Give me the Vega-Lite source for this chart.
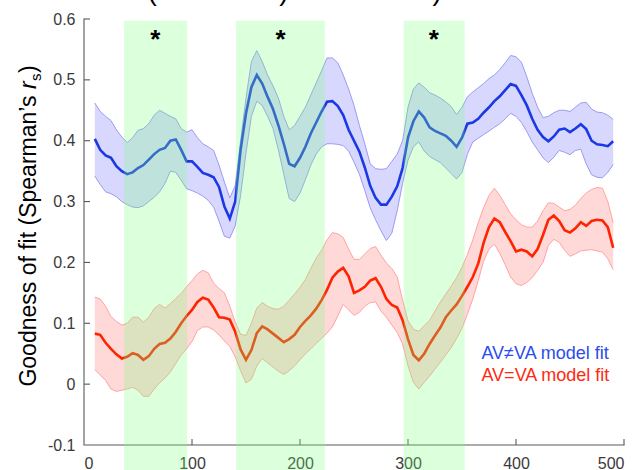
{
  "$schema": "https://vega.github.io/schema/vega-lite/v6.json",
  "width": 540,
  "height": 426,
  "autosize": "none",
  "padding": {"left": 84, "top": 19, "right": 19, "bottom": 25},
  "config": {
    "view": {"stroke": null},
    "font": "Liberation Sans",
    "axis": {
      "grid": false,
      "domain": false,
      "ticks": false,
      "labelFontSize": 16,
      "labelColor": "#3a3a3a"
    }
  },
  "datasets": {
    "fit": [
      {"model":"AV≠VA","x":10,"mean":0.403,"lo":0.342,"hi":0.462},
      {"model":"AV≠VA","x":15,"mean":0.385,"lo":0.328,"hi":0.448},
      {"model":"AV≠VA","x":20,"mean":0.376,"lo":0.316,"hi":0.440},
      {"model":"AV≠VA","x":25,"mean":0.372,"lo":0.313,"hi":0.433},
      {"model":"AV≠VA","x":30,"mean":0.358,"lo":0.308,"hi":0.418},
      {"model":"AV≠VA","x":35,"mean":0.350,"lo":0.300,"hi":0.406},
      {"model":"AV≠VA","x":40,"mean":0.345,"lo":0.295,"hi":0.397},
      {"model":"AV≠VA","x":45,"mean":0.348,"lo":0.291,"hi":0.405},
      {"model":"AV≠VA","x":50,"mean":0.355,"lo":0.290,"hi":0.417},
      {"model":"AV≠VA","x":55,"mean":0.360,"lo":0.293,"hi":0.420},
      {"model":"AV≠VA","x":60,"mean":0.369,"lo":0.300,"hi":0.428},
      {"model":"AV≠VA","x":65,"mean":0.378,"lo":0.307,"hi":0.442},
      {"model":"AV≠VA","x":70,"mean":0.385,"lo":0.316,"hi":0.450},
      {"model":"AV≠VA","x":75,"mean":0.388,"lo":0.330,"hi":0.445},
      {"model":"AV≠VA","x":80,"mean":0.400,"lo":0.350,"hi":0.440},
      {"model":"AV≠VA","x":85,"mean":0.402,"lo":0.348,"hi":0.436},
      {"model":"AV≠VA","x":90,"mean":0.385,"lo":0.335,"hi":0.420},
      {"model":"AV≠VA","x":95,"mean":0.366,"lo":0.321,"hi":0.414},
      {"model":"AV≠VA","x":100,"mean":0.366,"lo":0.318,"hi":0.418},
      {"model":"AV≠VA","x":105,"mean":0.357,"lo":0.314,"hi":0.405},
      {"model":"AV≠VA","x":110,"mean":0.347,"lo":0.309,"hi":0.395},
      {"model":"AV≠VA","x":115,"mean":0.344,"lo":0.302,"hi":0.390},
      {"model":"AV≠VA","x":120,"mean":0.340,"lo":0.291,"hi":0.384},
      {"model":"AV≠VA","x":125,"mean":0.324,"lo":0.268,"hi":0.360},
      {"model":"AV≠VA","x":130,"mean":0.292,"lo":0.243,"hi":0.332},
      {"model":"AV≠VA","x":135,"mean":0.272,"lo":0.240,"hi":0.306},
      {"model":"AV≠VA","x":140,"mean":0.300,"lo":0.260,"hi":0.326},
      {"model":"AV≠VA","x":145,"mean":0.385,"lo":0.310,"hi":0.400},
      {"model":"AV≠VA","x":150,"mean":0.445,"lo":0.380,"hi":0.470},
      {"model":"AV≠VA","x":155,"mean":0.488,"lo":0.440,"hi":0.530},
      {"model":"AV≠VA","x":160,"mean":0.508,"lo":0.465,"hi":0.548},
      {"model":"AV≠VA","x":165,"mean":0.494,"lo":0.458,"hi":0.530},
      {"model":"AV≠VA","x":170,"mean":0.472,"lo":0.440,"hi":0.508},
      {"model":"AV≠VA","x":175,"mean":0.452,"lo":0.420,"hi":0.490},
      {"model":"AV≠VA","x":180,"mean":0.425,"lo":0.385,"hi":0.470},
      {"model":"AV≠VA","x":185,"mean":0.395,"lo":0.345,"hi":0.440},
      {"model":"AV≠VA","x":190,"mean":0.362,"lo":0.305,"hi":0.418},
      {"model":"AV≠VA","x":195,"mean":0.358,"lo":0.300,"hi":0.425},
      {"model":"AV≠VA","x":200,"mean":0.372,"lo":0.314,"hi":0.440},
      {"model":"AV≠VA","x":205,"mean":0.390,"lo":0.336,"hi":0.455},
      {"model":"AV≠VA","x":210,"mean":0.412,"lo":0.360,"hi":0.475},
      {"model":"AV≠VA","x":215,"mean":0.430,"lo":0.378,"hi":0.495},
      {"model":"AV≠VA","x":220,"mean":0.448,"lo":0.390,"hi":0.515},
      {"model":"AV≠VA","x":225,"mean":0.464,"lo":0.395,"hi":0.536},
      {"model":"AV≠VA","x":230,"mean":0.465,"lo":0.395,"hi":0.536},
      {"model":"AV≠VA","x":235,"mean":0.457,"lo":0.394,"hi":0.528},
      {"model":"AV≠VA","x":240,"mean":0.442,"lo":0.392,"hi":0.508},
      {"model":"AV≠VA","x":245,"mean":0.418,"lo":0.383,"hi":0.485},
      {"model":"AV≠VA","x":250,"mean":0.400,"lo":0.365,"hi":0.458},
      {"model":"AV≠VA","x":255,"mean":0.382,"lo":0.345,"hi":0.425},
      {"model":"AV≠VA","x":260,"mean":0.356,"lo":0.318,"hi":0.395},
      {"model":"AV≠VA","x":265,"mean":0.326,"lo":0.290,"hi":0.362},
      {"model":"AV≠VA","x":270,"mean":0.306,"lo":0.270,"hi":0.354},
      {"model":"AV≠VA","x":275,"mean":0.295,"lo":0.252,"hi":0.353},
      {"model":"AV≠VA","x":280,"mean":0.295,"lo":0.236,"hi":0.354},
      {"model":"AV≠VA","x":285,"mean":0.308,"lo":0.248,"hi":0.366},
      {"model":"AV≠VA","x":290,"mean":0.325,"lo":0.285,"hi":0.378},
      {"model":"AV≠VA","x":295,"mean":0.355,"lo":0.330,"hi":0.400},
      {"model":"AV≠VA","x":300,"mean":0.405,"lo":0.368,"hi":0.455},
      {"model":"AV≠VA","x":305,"mean":0.432,"lo":0.390,"hi":0.485},
      {"model":"AV≠VA","x":310,"mean":0.448,"lo":0.398,"hi":0.495},
      {"model":"AV≠VA","x":315,"mean":0.438,"lo":0.383,"hi":0.488},
      {"model":"AV≠VA","x":320,"mean":0.422,"lo":0.374,"hi":0.479},
      {"model":"AV≠VA","x":325,"mean":0.416,"lo":0.369,"hi":0.475},
      {"model":"AV≠VA","x":330,"mean":0.412,"lo":0.364,"hi":0.470},
      {"model":"AV≠VA","x":335,"mean":0.408,"lo":0.355,"hi":0.464},
      {"model":"AV≠VA","x":340,"mean":0.400,"lo":0.346,"hi":0.456},
      {"model":"AV≠VA","x":345,"mean":0.390,"lo":0.337,"hi":0.443},
      {"model":"AV≠VA","x":350,"mean":0.405,"lo":0.348,"hi":0.455},
      {"model":"AV≠VA","x":355,"mean":0.428,"lo":0.378,"hi":0.472},
      {"model":"AV≠VA","x":360,"mean":0.430,"lo":0.398,"hi":0.480},
      {"model":"AV≠VA","x":365,"mean":0.436,"lo":0.404,"hi":0.487},
      {"model":"AV≠VA","x":370,"mean":0.446,"lo":0.410,"hi":0.494},
      {"model":"AV≠VA","x":375,"mean":0.455,"lo":0.416,"hi":0.502},
      {"model":"AV≠VA","x":380,"mean":0.465,"lo":0.422,"hi":0.508},
      {"model":"AV≠VA","x":385,"mean":0.473,"lo":0.428,"hi":0.517},
      {"model":"AV≠VA","x":390,"mean":0.483,"lo":0.436,"hi":0.528},
      {"model":"AV≠VA","x":395,"mean":0.493,"lo":0.445,"hi":0.540},
      {"model":"AV≠VA","x":400,"mean":0.490,"lo":0.440,"hi":0.538},
      {"model":"AV≠VA","x":405,"mean":0.475,"lo":0.430,"hi":0.529},
      {"model":"AV≠VA","x":410,"mean":0.458,"lo":0.415,"hi":0.505},
      {"model":"AV≠VA","x":415,"mean":0.436,"lo":0.398,"hi":0.478},
      {"model":"AV≠VA","x":420,"mean":0.418,"lo":0.385,"hi":0.455},
      {"model":"AV≠VA","x":425,"mean":0.406,"lo":0.372,"hi":0.438},
      {"model":"AV≠VA","x":430,"mean":0.399,"lo":0.364,"hi":0.440},
      {"model":"AV≠VA","x":435,"mean":0.407,"lo":0.373,"hi":0.446},
      {"model":"AV≠VA","x":440,"mean":0.418,"lo":0.384,"hi":0.450},
      {"model":"AV≠VA","x":445,"mean":0.420,"lo":0.381,"hi":0.450},
      {"model":"AV≠VA","x":450,"mean":0.414,"lo":0.377,"hi":0.448},
      {"model":"AV≠VA","x":455,"mean":0.420,"lo":0.384,"hi":0.455},
      {"model":"AV≠VA","x":460,"mean":0.427,"lo":0.386,"hi":0.462},
      {"model":"AV≠VA","x":465,"mean":0.419,"lo":0.362,"hi":0.463},
      {"model":"AV≠VA","x":470,"mean":0.400,"lo":0.344,"hi":0.452},
      {"model":"AV≠VA","x":475,"mean":0.394,"lo":0.340,"hi":0.447},
      {"model":"AV≠VA","x":480,"mean":0.393,"lo":0.339,"hi":0.446},
      {"model":"AV≠VA","x":485,"mean":0.391,"lo":0.348,"hi":0.442},
      {"model":"AV≠VA","x":490,"mean":0.399,"lo":0.361,"hi":0.435},
      {"model":"AV=VA","x":10,"mean":0.083,"lo":0.024,"hi":0.143},
      {"model":"AV=VA","x":15,"mean":0.081,"lo":0.015,"hi":0.140},
      {"model":"AV=VA","x":20,"mean":0.068,"lo":0.006,"hi":0.128},
      {"model":"AV=VA","x":25,"mean":0.058,"lo":-0.008,"hi":0.111},
      {"model":"AV=VA","x":30,"mean":0.049,"lo":-0.012,"hi":0.103},
      {"model":"AV=VA","x":35,"mean":0.042,"lo":-0.010,"hi":0.097},
      {"model":"AV=VA","x":40,"mean":0.045,"lo":-0.008,"hi":0.100},
      {"model":"AV=VA","x":45,"mean":0.051,"lo":-0.005,"hi":0.110},
      {"model":"AV=VA","x":50,"mean":0.048,"lo":-0.010,"hi":0.110},
      {"model":"AV=VA","x":55,"mean":0.040,"lo":-0.020,"hi":0.102},
      {"model":"AV=VA","x":60,"mean":0.046,"lo":-0.020,"hi":0.110},
      {"model":"AV=VA","x":65,"mean":0.058,"lo":-0.008,"hi":0.124},
      {"model":"AV=VA","x":70,"mean":0.066,"lo":0.002,"hi":0.131},
      {"model":"AV=VA","x":75,"mean":0.068,"lo":0.010,"hi":0.125},
      {"model":"AV=VA","x":80,"mean":0.075,"lo":0.020,"hi":0.132},
      {"model":"AV=VA","x":85,"mean":0.086,"lo":0.034,"hi":0.141},
      {"model":"AV=VA","x":90,"mean":0.100,"lo":0.048,"hi":0.149},
      {"model":"AV=VA","x":95,"mean":0.112,"lo":0.058,"hi":0.160},
      {"model":"AV=VA","x":100,"mean":0.122,"lo":0.070,"hi":0.170},
      {"model":"AV=VA","x":105,"mean":0.135,"lo":0.088,"hi":0.181},
      {"model":"AV=VA","x":110,"mean":0.142,"lo":0.094,"hi":0.187},
      {"model":"AV=VA","x":115,"mean":0.139,"lo":0.094,"hi":0.183},
      {"model":"AV=VA","x":120,"mean":0.126,"lo":0.089,"hi":0.166},
      {"model":"AV=VA","x":125,"mean":0.110,"lo":0.081,"hi":0.157},
      {"model":"AV=VA","x":130,"mean":0.109,"lo":0.071,"hi":0.150},
      {"model":"AV=VA","x":135,"mean":0.106,"lo":0.062,"hi":0.128},
      {"model":"AV=VA","x":140,"mean":0.086,"lo":0.045,"hi":0.102},
      {"model":"AV=VA","x":145,"mean":0.057,"lo":0.022,"hi":0.082},
      {"model":"AV=VA","x":150,"mean":0.040,"lo":0.002,"hi":0.080},
      {"model":"AV=VA","x":155,"mean":0.056,"lo":0.008,"hi":0.100},
      {"model":"AV=VA","x":160,"mean":0.084,"lo":0.030,"hi":0.125},
      {"model":"AV=VA","x":165,"mean":0.095,"lo":0.042,"hi":0.134},
      {"model":"AV=VA","x":170,"mean":0.090,"lo":0.035,"hi":0.128},
      {"model":"AV=VA","x":175,"mean":0.083,"lo":0.028,"hi":0.124},
      {"model":"AV=VA","x":180,"mean":0.076,"lo":0.021,"hi":0.123},
      {"model":"AV=VA","x":185,"mean":0.069,"lo":0.016,"hi":0.128},
      {"model":"AV=VA","x":190,"mean":0.074,"lo":0.022,"hi":0.138},
      {"model":"AV=VA","x":195,"mean":0.081,"lo":0.030,"hi":0.148},
      {"model":"AV=VA","x":200,"mean":0.094,"lo":0.040,"hi":0.159},
      {"model":"AV=VA","x":205,"mean":0.104,"lo":0.050,"hi":0.172},
      {"model":"AV=VA","x":210,"mean":0.113,"lo":0.058,"hi":0.190},
      {"model":"AV=VA","x":215,"mean":0.124,"lo":0.067,"hi":0.207},
      {"model":"AV=VA","x":220,"mean":0.138,"lo":0.075,"hi":0.220},
      {"model":"AV=VA","x":225,"mean":0.155,"lo":0.084,"hi":0.237},
      {"model":"AV=VA","x":230,"mean":0.175,"lo":0.094,"hi":0.249},
      {"model":"AV=VA","x":235,"mean":0.185,"lo":0.112,"hi":0.247},
      {"model":"AV=VA","x":240,"mean":0.191,"lo":0.131,"hi":0.241},
      {"model":"AV=VA","x":245,"mean":0.177,"lo":0.122,"hi":0.222},
      {"model":"AV=VA","x":250,"mean":0.150,"lo":0.113,"hi":0.205},
      {"model":"AV=VA","x":255,"mean":0.154,"lo":0.118,"hi":0.205},
      {"model":"AV=VA","x":260,"mean":0.160,"lo":0.128,"hi":0.214},
      {"model":"AV=VA","x":265,"mean":0.170,"lo":0.134,"hi":0.223},
      {"model":"AV=VA","x":270,"mean":0.174,"lo":0.135,"hi":0.226},
      {"model":"AV=VA","x":275,"mean":0.160,"lo":0.120,"hi":0.212},
      {"model":"AV=VA","x":280,"mean":0.140,"lo":0.110,"hi":0.199},
      {"model":"AV=VA","x":285,"mean":0.130,"lo":0.097,"hi":0.190},
      {"model":"AV=VA","x":290,"mean":0.126,"lo":0.085,"hi":0.176},
      {"model":"AV=VA","x":295,"mean":0.105,"lo":0.066,"hi":0.138},
      {"model":"AV=VA","x":300,"mean":0.074,"lo":0.030,"hi":0.104},
      {"model":"AV=VA","x":305,"mean":0.048,"lo":0.003,"hi":0.090},
      {"model":"AV=VA","x":310,"mean":0.039,"lo":-0.008,"hi":0.087},
      {"model":"AV=VA","x":315,"mean":0.050,"lo":0.003,"hi":0.096},
      {"model":"AV=VA","x":320,"mean":0.066,"lo":0.013,"hi":0.105},
      {"model":"AV=VA","x":325,"mean":0.080,"lo":0.025,"hi":0.120},
      {"model":"AV=VA","x":330,"mean":0.093,"lo":0.036,"hi":0.135},
      {"model":"AV=VA","x":335,"mean":0.110,"lo":0.048,"hi":0.148},
      {"model":"AV=VA","x":340,"mean":0.121,"lo":0.060,"hi":0.161},
      {"model":"AV=VA","x":345,"mean":0.131,"lo":0.075,"hi":0.175},
      {"model":"AV=VA","x":350,"mean":0.145,"lo":0.092,"hi":0.192},
      {"model":"AV=VA","x":355,"mean":0.160,"lo":0.115,"hi":0.213},
      {"model":"AV=VA","x":360,"mean":0.176,"lo":0.140,"hi":0.237},
      {"model":"AV=VA","x":365,"mean":0.198,"lo":0.170,"hi":0.265},
      {"model":"AV=VA","x":370,"mean":0.232,"lo":0.202,"hi":0.290},
      {"model":"AV=VA","x":375,"mean":0.258,"lo":0.222,"hi":0.310},
      {"model":"AV=VA","x":380,"mean":0.272,"lo":0.230,"hi":0.322},
      {"model":"AV=VA","x":385,"mean":0.266,"lo":0.215,"hi":0.310},
      {"model":"AV=VA","x":390,"mean":0.250,"lo":0.196,"hi":0.295},
      {"model":"AV=VA","x":395,"mean":0.235,"lo":0.176,"hi":0.280},
      {"model":"AV=VA","x":400,"mean":0.218,"lo":0.165,"hi":0.270},
      {"model":"AV=VA","x":405,"mean":0.221,"lo":0.162,"hi":0.262},
      {"model":"AV=VA","x":410,"mean":0.218,"lo":0.167,"hi":0.258},
      {"model":"AV=VA","x":415,"mean":0.210,"lo":0.175,"hi":0.258},
      {"model":"AV=VA","x":420,"mean":0.222,"lo":0.187,"hi":0.268},
      {"model":"AV=VA","x":425,"mean":0.245,"lo":0.200,"hi":0.285},
      {"model":"AV=VA","x":430,"mean":0.270,"lo":0.228,"hi":0.298},
      {"model":"AV=VA","x":435,"mean":0.277,"lo":0.238,"hi":0.297},
      {"model":"AV=VA","x":440,"mean":0.268,"lo":0.233,"hi":0.291},
      {"model":"AV=VA","x":445,"mean":0.253,"lo":0.220,"hi":0.285},
      {"model":"AV=VA","x":450,"mean":0.249,"lo":0.210,"hi":0.287},
      {"model":"AV=VA","x":455,"mean":0.256,"lo":0.214,"hi":0.294},
      {"model":"AV=VA","x":460,"mean":0.266,"lo":0.219,"hi":0.305},
      {"model":"AV=VA","x":465,"mean":0.260,"lo":0.220,"hi":0.314},
      {"model":"AV=VA","x":470,"mean":0.268,"lo":0.221,"hi":0.320},
      {"model":"AV=VA","x":475,"mean":0.270,"lo":0.219,"hi":0.323},
      {"model":"AV=VA","x":480,"mean":0.269,"lo":0.217,"hi":0.322},
      {"model":"AV=VA","x":485,"mean":0.258,"lo":0.206,"hi":0.300},
      {"model":"AV=VA","x":490,"mean":0.224,"lo":0.188,"hi":0.265}
    ],
    "windows": [
      {"start": 37, "end": 95.5},
      {"start": 140.7, "end": 223},
      {"start": 296, "end": 352.5}
    ],
    "frame": [
      {"i": 1, "x": 0, "y": 0.6},
      {"i": 2, "x": 0, "y": -0.1},
      {"i": 3, "x": 500, "y": -0.1}
    ],
    "xticks": [{"t": 100}, {"t": 200}, {"t": 300}, {"t": 400}, {"t": 500}],
    "yticks": [{"t": 0}, {"t": 0.1}, {"t": 0.2}, {"t": 0.3}, {"t": 0.4}, {"t": 0.5}, {"t": 0.6}]
  },
  "layer": [
    {
      "data": {"name": "fit"},
      "transform": [{"filter": "datum.model === 'AV≠VA'"}],
      "mark": {"type": "area", "color": "#4d4dff", "opacity": 0.22},
      "encoding": {
        "x": {"field": "x", "type": "quantitative", "title": null,
              "scale": {"domain": [0, 500], "nice": false, "zero": false},
              "axis": {"values": [0, 100, 200, 300, 400, 500], "labelPadding": 10}},
        "y": {"field": "hi", "type": "quantitative", "title": null,
              "scale": {"domain": [-0.1, 0.6], "nice": false, "zero": false},
              "axis": {"values": [-0.1, 0, 0.1, 0.2, 0.3, 0.4, 0.5, 0.6], "labelPadding": 9,
                       "labelExpr": "datum.value == 0 ? '0' : (datum.value < 0 ? '-' + format(-datum.value, '.1f') : format(datum.value, '.1f'))"}},
        "y2": {"field": "lo"}
      }
    },
    {
      "data": {"name": "fit"},
      "transform": [{"filter": "datum.model === 'AV≠VA'"}],
      "mark": {"type": "line", "color": "#9a9af2", "strokeWidth": 1},
      "encoding": {"x": {"field": "x", "type": "quantitative", "title": null}, "y": {"field": "hi", "type": "quantitative", "title": null}}
    },
    {
      "data": {"name": "fit"},
      "transform": [{"filter": "datum.model === 'AV≠VA'"}],
      "mark": {"type": "line", "color": "#9a9af2", "strokeWidth": 1},
      "encoding": {"x": {"field": "x", "type": "quantitative", "title": null}, "y": {"field": "lo", "type": "quantitative", "title": null}}
    },
    {
      "data": {"name": "fit"},
      "transform": [{"filter": "datum.model === 'AV≠VA'"}],
      "mark": {"type": "line", "color": "#1a38e4", "strokeWidth": 2.6},
      "encoding": {"x": {"field": "x", "type": "quantitative", "title": null}, "y": {"field": "mean", "type": "quantitative", "title": null}}
    },
    {
      "data": {"name": "fit"},
      "transform": [{"filter": "datum.model === 'AV=VA'"}],
      "mark": {"type": "area", "color": "#ff4d4d", "opacity": 0.22},
      "encoding": {"x": {"field": "x", "type": "quantitative", "title": null}, "y": {"field": "hi", "type": "quantitative", "title": null}, "y2": {"field": "lo"}}
    },
    {
      "data": {"name": "fit"},
      "transform": [{"filter": "datum.model === 'AV=VA'"}],
      "mark": {"type": "line", "color": "#ffa3a3", "strokeWidth": 1},
      "encoding": {"x": {"field": "x", "type": "quantitative", "title": null}, "y": {"field": "hi", "type": "quantitative", "title": null}}
    },
    {
      "data": {"name": "fit"},
      "transform": [{"filter": "datum.model === 'AV=VA'"}],
      "mark": {"type": "line", "color": "#ffa3a3", "strokeWidth": 1},
      "encoding": {"x": {"field": "x", "type": "quantitative", "title": null}, "y": {"field": "lo", "type": "quantitative", "title": null}}
    },
    {
      "data": {"name": "fit"},
      "transform": [{"filter": "datum.model === 'AV=VA'"}],
      "mark": {"type": "line", "color": "#ff2400", "strokeWidth": 2.6},
      "encoding": {"x": {"field": "x", "type": "quantitative", "title": null}, "y": {"field": "mean", "type": "quantitative", "title": null}}
    },
    {
      "data": {"name": "frame"},
      "mark": {"type": "line", "color": "#5a5a5a", "strokeWidth": 1.1, "strokeCap": "square"},
      "encoding": {
        "x": {"field": "x", "type": "quantitative", "title": null},
        "y": {"field": "y", "type": "quantitative", "title": null},
        "order": {"field": "i"}
      }
    },
    {
      "data": {"name": "xticks"},
      "mark": {"type": "point", "shape": "M0,0V-1", "size": 144, "filled": false, "stroke": "#5a5a5a", "strokeWidth": 1.1, "opacity": 1},
      "encoding": {
        "x": {"field": "t", "type": "quantitative", "title": null},
        "y": {"datum": -0.1, "type": "quantitative", "title": null}
      }
    },
    {
      "data": {"name": "yticks"},
      "mark": {"type": "point", "shape": "M0,0H1", "size": 144, "filled": false, "stroke": "#5a5a5a", "strokeWidth": 1.1, "opacity": 1},
      "encoding": {
        "y": {"field": "t", "type": "quantitative", "title": null},
        "x": {"datum": 0, "type": "quantitative", "title": null}
      }
    },
    {
      "data": {"name": "windows"},
      "mark": {"type": "rect", "color": "#7fff7f", "opacity": 0.27},
      "encoding": {
        "x": {"field": "start", "type": "quantitative", "title": null},
        "x2": {"field": "end"},
        "y": {"datum": 0.597, "type": "quantitative", "title": null},
        "y2": {"datum": -0.15}
      }
    },
    {
      "data": {"values": [{"x": 66}, {"x": 182}, {"x": 324}]},
      "mark": {"type": "text", "text": "*", "fontSize": 26, "fontWeight": "bold", "color": "#000000", "baseline": "alphabetic", "align": "center"},
      "encoding": {
        "x": {"field": "x", "type": "quantitative", "title": null},
        "y": {"datum": 0.553, "type": "quantitative", "title": null}
      }
    },
    {
      "data": {"values": [{"x": 63, "t": "("}, {"x": 185, "t": ")"}, {"x": 327, "t": ")"}]},
      "mark": {"type": "text", "fontSize": 28, "color": "#000000", "baseline": "alphabetic", "align": "center"},
      "encoding": {
        "x": {"field": "x", "type": "quantitative", "title": null},
        "y": {"datum": 0.632, "type": "quantitative", "title": null},
        "text": {"field": "t"}
      }
    },
    {
      "data": {"values": [{"label": "AV≠VA model fit"}]},
      "mark": {"type": "text", "fontSize": 18, "color": "#2a4cf0", "align": "left", "baseline": "middle"},
      "encoding": {"x": {"datum": 368, "type": "quantitative", "title": null}, "y": {"datum": 0.0503, "type": "quantitative", "title": null}, "text": {"field": "label"}}
    },
    {
      "data": {"values": [{"label": "AV=VA model fit"}]},
      "mark": {"type": "text", "fontSize": 18, "color": "#ff2a10", "align": "left", "baseline": "middle"},
      "encoding": {"x": {"datum": 368, "type": "quantitative", "title": null}, "y": {"datum": 0.0133, "type": "quantitative", "title": null}, "text": {"field": "label"}}
    },
    {
      "data": {"values": [{"label": "Goodness of fit (Spearman’s"}]},
      "mark": {"type": "text", "fontSize": 23, "color": "#000000", "angle": 270, "align": "left", "baseline": "alphabetic"},
      "encoding": {"x": {"datum": -44.4, "type": "quantitative", "title": null}, "y": {"datum": -0.004, "type": "quantitative", "title": null}, "text": {"field": "label"}}
    },
    {
      "data": {"values": [{"label": "r"}]},
      "mark": {"type": "text", "fontSize": 23, "fontStyle": "italic", "color": "#000000", "angle": 270, "align": "left", "baseline": "alphabetic"},
      "encoding": {"x": {"datum": -44.4, "type": "quantitative", "title": null}, "y": {"datum": 0.4849, "type": "quantitative", "title": null}, "text": {"field": "label"}}
    },
    {
      "data": {"values": [{"label": "s"}]},
      "mark": {"type": "text", "fontSize": 15, "color": "#000000", "angle": 270, "align": "left", "baseline": "alphabetic"},
      "encoding": {"x": {"datum": -39.8, "type": "quantitative", "title": null}, "y": {"datum": 0.498, "type": "quantitative", "title": null}, "text": {"field": "label"}}
    },
    {
      "data": {"values": [{"label": ")"}]},
      "mark": {"type": "text", "fontSize": 23, "color": "#000000", "angle": 270, "align": "left", "baseline": "alphabetic"},
      "encoding": {"x": {"datum": -44.4, "type": "quantitative", "title": null}, "y": {"datum": 0.5112, "type": "quantitative", "title": null}, "text": {"field": "label"}}
    }
  ]
}
